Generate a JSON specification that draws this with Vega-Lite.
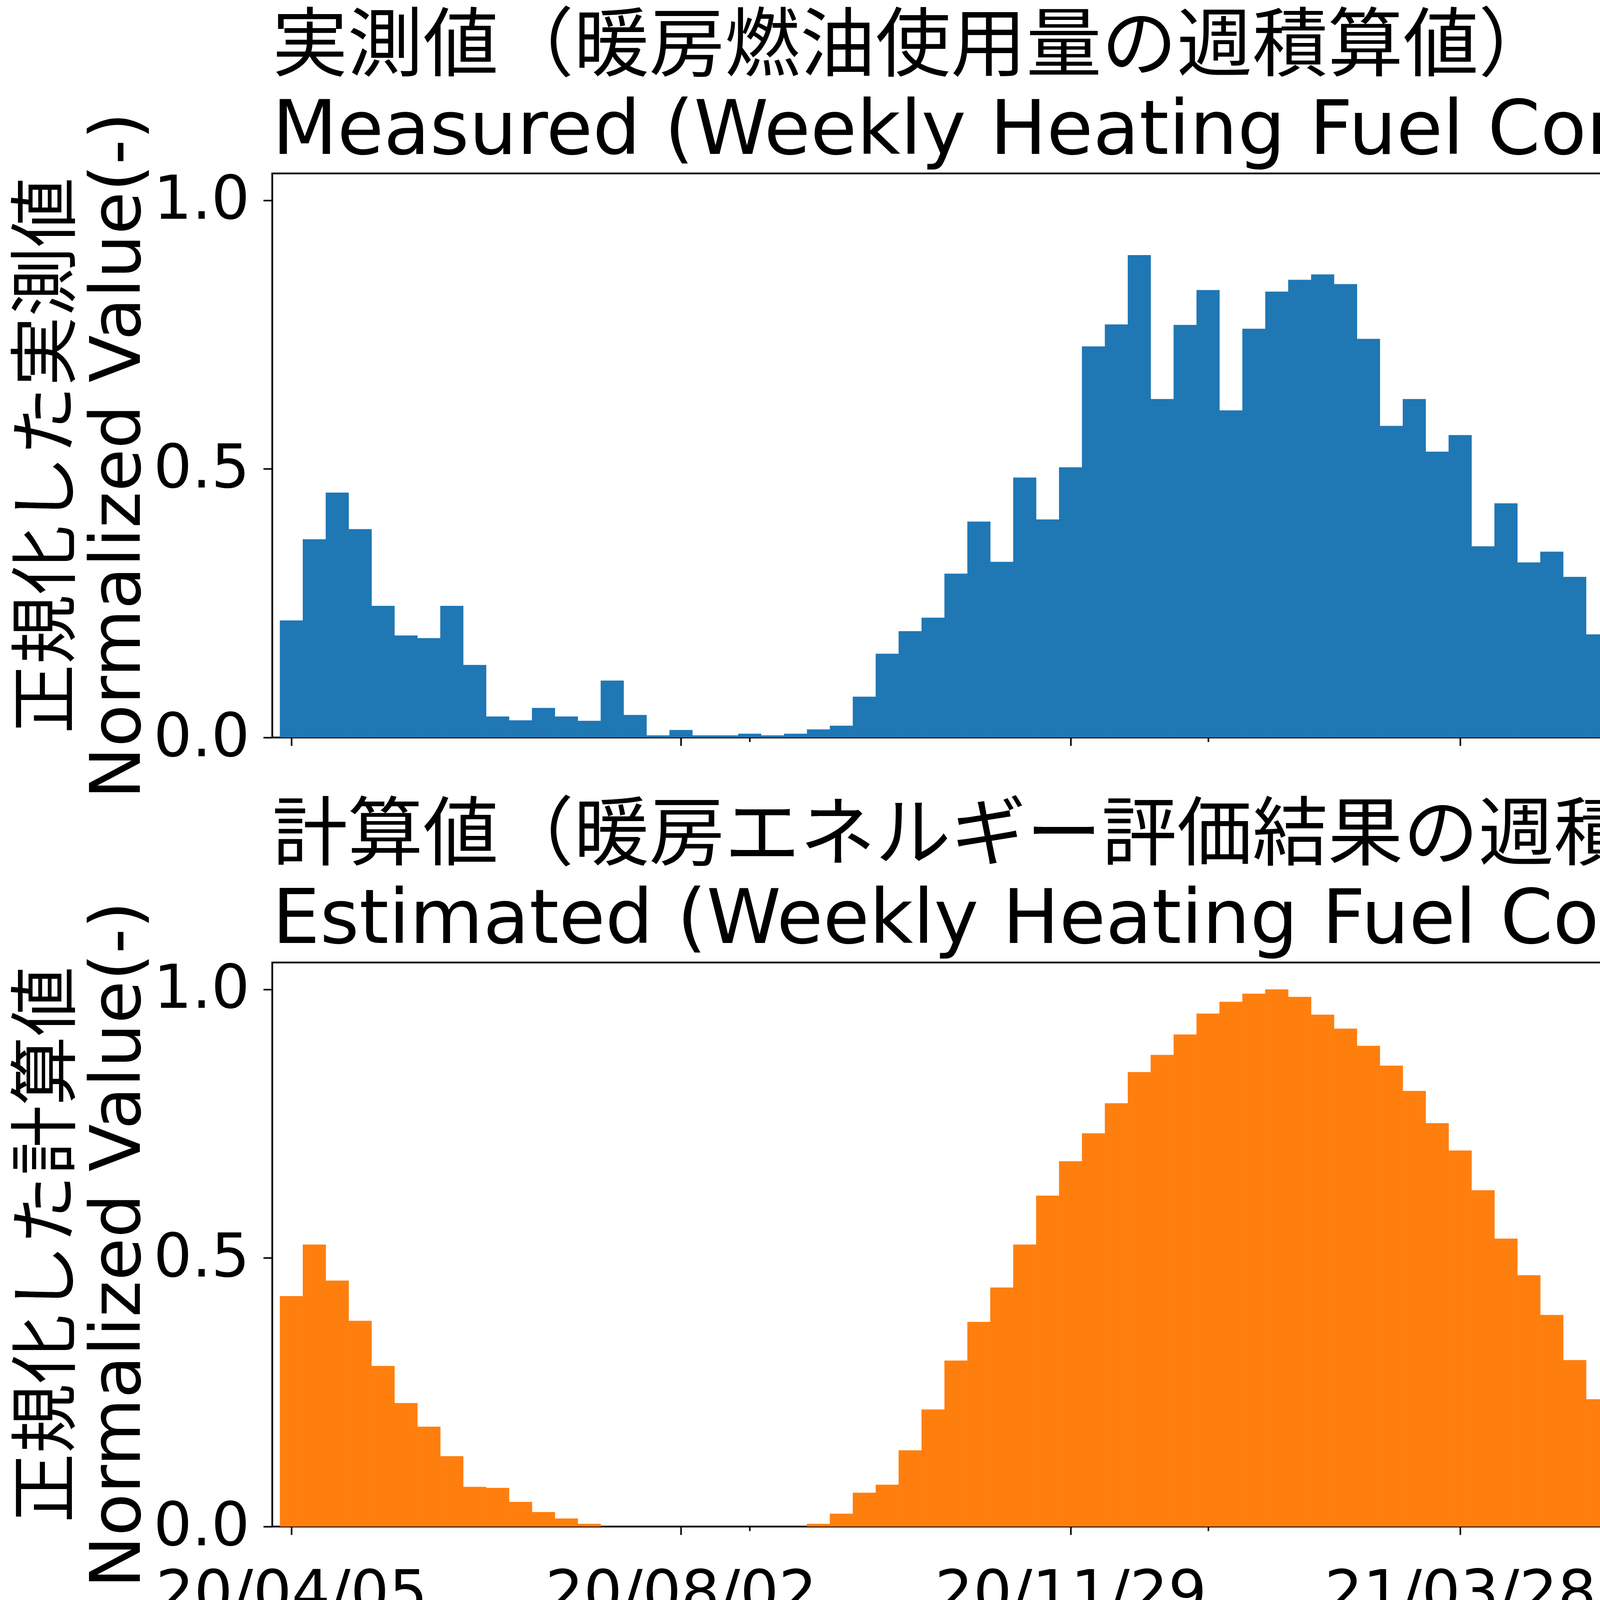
{
  "$schema": "https://vega.github.io/schema/vega-lite/v6.json",
  "background": "white",
  "padding": {"left": 32, "top": 23, "right": 30, "bottom": 10},
  "config": {
    "font": "'DejaVu Sans', 'Noto Sans CJK JP'",
    "view": {"stroke": "black", "strokeWidth": 4.5},
    "axis": {
      "labelFont": "'DejaVu Sans', 'Noto Sans CJK JP'",
      "titleFont": "'DejaVu Sans', 'Noto Sans CJK JP'",
      "labelFontSize": 155,
      "labelLimit": 3000,
      "titleLimit": 5000,
      "labelColor": "black",
      "titleColor": "black",
      "titleFontWeight": "normal",
      "tickColor": "black",
      "tickWidth": 4,
      "domain": false,
      "grid": false
    },
    "title": {
      "font": "'DejaVu Sans', 'Noto Sans CJK JP'",
      "fontSize": 193,
      "fontWeight": "normal",
      "color": "black",
      "anchor": "start",
      "frame": "group",
      "lineHeight": 214,
      "limit": 7000,
      "offset": -148
    }
  },
  "datasets": {
    "measured": [
      {"date": "2020-04-05", "value": 0.218}, {"date": "2020-04-12", "value": 0.369}, {"date": "2020-04-19", "value": 0.456},
      {"date": "2020-04-26", "value": 0.388}, {"date": "2020-05-03", "value": 0.245}, {"date": "2020-05-10", "value": 0.190},
      {"date": "2020-05-17", "value": 0.185}, {"date": "2020-05-24", "value": 0.245}, {"date": "2020-05-31", "value": 0.135},
      {"date": "2020-06-07", "value": 0.039}, {"date": "2020-06-14", "value": 0.032}, {"date": "2020-06-21", "value": 0.055},
      {"date": "2020-06-28", "value": 0.039}, {"date": "2020-07-05", "value": 0.031}, {"date": "2020-07-12", "value": 0.106},
      {"date": "2020-07-19", "value": 0.042}, {"date": "2020-07-26", "value": 0.004}, {"date": "2020-08-02", "value": 0.014},
      {"date": "2020-08-09", "value": 0.004}, {"date": "2020-08-16", "value": 0.004}, {"date": "2020-08-23", "value": 0.007},
      {"date": "2020-08-30", "value": 0.004}, {"date": "2020-09-06", "value": 0.007}, {"date": "2020-09-13", "value": 0.015},
      {"date": "2020-09-20", "value": 0.022}, {"date": "2020-09-27", "value": 0.076}, {"date": "2020-10-04", "value": 0.156},
      {"date": "2020-10-11", "value": 0.198}, {"date": "2020-10-18", "value": 0.223}, {"date": "2020-10-25", "value": 0.305},
      {"date": "2020-11-01", "value": 0.402}, {"date": "2020-11-08", "value": 0.327}, {"date": "2020-11-15", "value": 0.484},
      {"date": "2020-11-22", "value": 0.406}, {"date": "2020-11-29", "value": 0.503}, {"date": "2020-12-06", "value": 0.728},
      {"date": "2020-12-13", "value": 0.769}, {"date": "2020-12-20", "value": 0.898}, {"date": "2020-12-27", "value": 0.630},
      {"date": "2021-01-03", "value": 0.768}, {"date": "2021-01-10", "value": 0.833}, {"date": "2021-01-17", "value": 0.609},
      {"date": "2021-01-24", "value": 0.761}, {"date": "2021-01-31", "value": 0.830}, {"date": "2021-02-07", "value": 0.852},
      {"date": "2021-02-14", "value": 0.862}, {"date": "2021-02-21", "value": 0.844}, {"date": "2021-02-28", "value": 0.742},
      {"date": "2021-03-07", "value": 0.580}, {"date": "2021-03-14", "value": 0.630}, {"date": "2021-03-21", "value": 0.532},
      {"date": "2021-03-28", "value": 0.563}, {"date": "2021-04-04", "value": 0.356}, {"date": "2021-04-11", "value": 0.436},
      {"date": "2021-04-18", "value": 0.326}, {"date": "2021-04-25", "value": 0.346}, {"date": "2021-05-02", "value": 0.299},
      {"date": "2021-05-09", "value": 0.192}, {"date": "2021-05-16", "value": 0.134}, {"date": "2021-05-23", "value": 0.097},
      {"date": "2021-05-30", "value": 0.093}, {"date": "2021-06-06", "value": 0.065}, {"date": "2021-06-13", "value": 0.017},
      {"date": "2021-06-20", "value": 0.021}, {"date": "2021-06-27", "value": 0.027}, {"date": "2021-07-04", "value": 0.010},
      {"date": "2021-07-11", "value": 0.003}, {"date": "2021-07-18", "value": 0.009}, {"date": "2021-07-25", "value": 0.003},
      {"date": "2021-08-01", "value": 0.003}, {"date": "2021-08-08", "value": 0.0}, {"date": "2021-08-15", "value": 0.003},
      {"date": "2021-08-22", "value": 0.009}, {"date": "2021-08-29", "value": 0.0}, {"date": "2021-09-05", "value": 0.018},
      {"date": "2021-09-12", "value": 0.074}, {"date": "2021-09-19", "value": 0.053}, {"date": "2021-09-26", "value": 0.121},
      {"date": "2021-10-03", "value": 0.252}, {"date": "2021-10-10", "value": 0.173}, {"date": "2021-10-17", "value": 0.219},
      {"date": "2021-10-24", "value": 0.404}, {"date": "2021-10-31", "value": 0.345}, {"date": "2021-11-07", "value": 0.412},
      {"date": "2021-11-14", "value": 0.449}, {"date": "2021-11-21", "value": 0.497}, {"date": "2021-11-28", "value": 0.691},
      {"date": "2021-12-05", "value": 0.806}, {"date": "2021-12-12", "value": 0.754}, {"date": "2021-12-19", "value": 0.917},
      {"date": "2021-12-26", "value": 0.626}, {"date": "2022-01-02", "value": 0.672}, {"date": "2022-01-09", "value": 0.710},
      {"date": "2022-01-16", "value": 0.708}, {"date": "2022-01-23", "value": 0.612}, {"date": "2022-01-30", "value": 0.631},
      {"date": "2022-02-06", "value": 1.000}, {"date": "2022-02-13", "value": 0.849}, {"date": "2022-02-20", "value": 0.815},
      {"date": "2022-02-27", "value": 0.800}, {"date": "2022-03-06", "value": 0.616}, {"date": "2022-03-13", "value": 0.607},
      {"date": "2022-03-20", "value": 0.535}, {"date": "2022-03-27", "value": 0.573}, {"date": "2022-04-03", "value": 0.275}
    ],
    "estimated": [
      {"date": "2020-04-05", "value": 0.429}, {"date": "2020-04-12", "value": 0.525}, {"date": "2020-04-19", "value": 0.458},
      {"date": "2020-04-26", "value": 0.383}, {"date": "2020-05-03", "value": 0.299}, {"date": "2020-05-10", "value": 0.230},
      {"date": "2020-05-17", "value": 0.186}, {"date": "2020-05-24", "value": 0.131}, {"date": "2020-05-31", "value": 0.074},
      {"date": "2020-06-07", "value": 0.072}, {"date": "2020-06-14", "value": 0.046}, {"date": "2020-06-21", "value": 0.027},
      {"date": "2020-06-28", "value": 0.015}, {"date": "2020-07-05", "value": 0.005}, {"date": "2020-07-12", "value": 0.0},
      {"date": "2020-07-19", "value": 0.0}, {"date": "2020-07-26", "value": 0.0}, {"date": "2020-08-02", "value": 0.0},
      {"date": "2020-08-09", "value": 0.0}, {"date": "2020-08-16", "value": 0.0}, {"date": "2020-08-23", "value": 0.0},
      {"date": "2020-08-30", "value": 0.0}, {"date": "2020-09-06", "value": 0.0}, {"date": "2020-09-13", "value": 0.005},
      {"date": "2020-09-20", "value": 0.024}, {"date": "2020-09-27", "value": 0.063}, {"date": "2020-10-04", "value": 0.078},
      {"date": "2020-10-11", "value": 0.142}, {"date": "2020-10-18", "value": 0.218}, {"date": "2020-10-25", "value": 0.309},
      {"date": "2020-11-01", "value": 0.381}, {"date": "2020-11-08", "value": 0.445}, {"date": "2020-11-15", "value": 0.525},
      {"date": "2020-11-22", "value": 0.616}, {"date": "2020-11-29", "value": 0.680}, {"date": "2020-12-06", "value": 0.732},
      {"date": "2020-12-13", "value": 0.788}, {"date": "2020-12-20", "value": 0.846}, {"date": "2020-12-27", "value": 0.878},
      {"date": "2021-01-03", "value": 0.916}, {"date": "2021-01-10", "value": 0.955}, {"date": "2021-01-17", "value": 0.977},
      {"date": "2021-01-24", "value": 0.992}, {"date": "2021-01-31", "value": 1.000}, {"date": "2021-02-07", "value": 0.986},
      {"date": "2021-02-14", "value": 0.953}, {"date": "2021-02-21", "value": 0.927}, {"date": "2021-02-28", "value": 0.895},
      {"date": "2021-03-07", "value": 0.858}, {"date": "2021-03-14", "value": 0.811}, {"date": "2021-03-21", "value": 0.751},
      {"date": "2021-03-28", "value": 0.700}, {"date": "2021-04-04", "value": 0.626}, {"date": "2021-04-11", "value": 0.536},
      {"date": "2021-04-18", "value": 0.468}, {"date": "2021-04-25", "value": 0.394}, {"date": "2021-05-02", "value": 0.310},
      {"date": "2021-05-09", "value": 0.237}, {"date": "2021-05-16", "value": 0.193}, {"date": "2021-05-23", "value": 0.139},
      {"date": "2021-05-30", "value": 0.082}, {"date": "2021-06-06", "value": 0.070}, {"date": "2021-06-13", "value": 0.049},
      {"date": "2021-06-20", "value": 0.029}, {"date": "2021-06-27", "value": 0.017}, {"date": "2021-07-04", "value": 0.006},
      {"date": "2021-07-11", "value": 0.0}, {"date": "2021-07-18", "value": 0.0}, {"date": "2021-07-25", "value": 0.0},
      {"date": "2021-08-01", "value": 0.0}, {"date": "2021-08-08", "value": 0.0}, {"date": "2021-08-15", "value": 0.0},
      {"date": "2021-08-22", "value": 0.0}, {"date": "2021-08-29", "value": 0.0}, {"date": "2021-09-05", "value": 0.0},
      {"date": "2021-09-12", "value": 0.004}, {"date": "2021-09-19", "value": 0.021}, {"date": "2021-09-26", "value": 0.057},
      {"date": "2021-10-03", "value": 0.075}, {"date": "2021-10-10", "value": 0.131}, {"date": "2021-10-17", "value": 0.207},
      {"date": "2021-10-24", "value": 0.297}, {"date": "2021-10-31", "value": 0.373}, {"date": "2021-11-07", "value": 0.435},
      {"date": "2021-11-14", "value": 0.512}, {"date": "2021-11-21", "value": 0.603}, {"date": "2021-11-28", "value": 0.672},
      {"date": "2021-12-05", "value": 0.723}, {"date": "2021-12-12", "value": 0.779}, {"date": "2021-12-19", "value": 0.839},
      {"date": "2021-12-26", "value": 0.873}, {"date": "2022-01-02", "value": 0.910}, {"date": "2022-01-09", "value": 0.950},
      {"date": "2022-01-16", "value": 0.975}, {"date": "2022-01-23", "value": 0.991}, {"date": "2022-01-30", "value": 1.000},
      {"date": "2022-02-06", "value": 0.991}, {"date": "2022-02-13", "value": 0.957}, {"date": "2022-02-20", "value": 0.930},
      {"date": "2022-02-27", "value": 0.900}, {"date": "2022-03-06", "value": 0.864}, {"date": "2022-03-13", "value": 0.820},
      {"date": "2022-03-20", "value": 0.760}, {"date": "2022-03-27", "value": 0.708}, {"date": "2022-04-03", "value": 0.376}
    ]
  },
  "vconcat": [
    {
      "title": {"text": ["実測値（暖房燃油使用量の週積算値）", "Measured (Weekly Heating Fuel Consumption)"]},
      "width": 6201,
      "height": 1444,
      "data": {"name": "measured"},
      "mark": {"type": "bar", "width": 59.2, "color": "#1f77b4"},
      "encoding": {
        "x": {
          "field": "date",
          "type": "temporal",
          "scale": {"type": "utc", "domain": [1585591200000, 1649415600000]},
          "axis": {
            "values": [1586044800000, 1596326400000, 1598140800000, 1606608000000, 1610236800000, 1616889600000, 1622332800000, 1627171200000, 1634428800000, 1637452800000, 1646524800000, 1647734400000],
            "labels": false,
            "title": null,
            "tickSize": {"condition": {"test": "round((time(datum.value) - 1586044800000) / 604800000) % 17 != 0", "value": 11}, "value": 21}
          }
        },
        "y": {
          "field": "value",
          "type": "quantitative",
          "scale": {"domain": [0, 1.05], "nice": false},
          "axis": {
            "values": [0, 0.5, 1],
            "format": ".1f",
            "tickSize": 23,
            "labelPadding": 35,
            "title": ["正規化した実測値", "Normalized Value(-)"],
            "titleFontSize": 178,
            "titleLineHeight": 180,
            "titleBaseline": "alphabetic",
            "titleAlign": "center",
            "titleAngle": 270,
            "titleX": -520,
            "titleY": 722
          }
        }
      }
    },
    {
      "title": {"text": ["計算値（暖房エネルギー評価結果の週積算値）", "Estimated (Weekly Heating Fuel Consumption)"]},
      "width": 6201,
      "height": 1444,
      "data": {"name": "estimated"},
      "mark": {"type": "bar", "width": 59.2, "color": "#ff7f0e"},
      "encoding": {
        "x": {
          "field": "date",
          "type": "temporal",
          "scale": {"type": "utc", "domain": [1585591200000, 1649415600000]},
          "axis": {
            "values": [1586044800000, 1596326400000, 1598140800000, 1606608000000, 1610236800000, 1616889600000, 1622332800000, 1627171200000, 1634428800000, 1637452800000, 1646524800000, 1647734400000],
            "labelExpr": "round((time(datum.value) - 1586044800000) / 604800000) % 17 != 0 ? '' : utcFormat(datum.value, '%y/%m/%d')",
            "labelPadding": 78,
            "tickSize": {"condition": {"test": "round((time(datum.value) - 1586044800000) / 604800000) % 17 != 0", "value": 11}, "value": 21},
            "title": "年月日, Date",
            "titleFontSize": 152,
            "titleBaseline": "alphabetic",
            "titleAlign": "center",
            "titleX": 3110,
            "titleY": 408
          }
        },
        "y": {
          "field": "value",
          "type": "quantitative",
          "scale": {"domain": [0, 1.05], "nice": false},
          "axis": {
            "values": [0, 0.5, 1],
            "format": ".1f",
            "tickSize": 23,
            "labelPadding": 35,
            "title": ["正規化した計算値", "Normalized Value(-)"],
            "titleFontSize": 178,
            "titleLineHeight": 180,
            "titleBaseline": "alphabetic",
            "titleAlign": "center",
            "titleAngle": 270,
            "titleX": -520,
            "titleY": 722
          }
        }
      }
    }
  ],
  "spacing": 576,
  "bounds": "flush"
}
